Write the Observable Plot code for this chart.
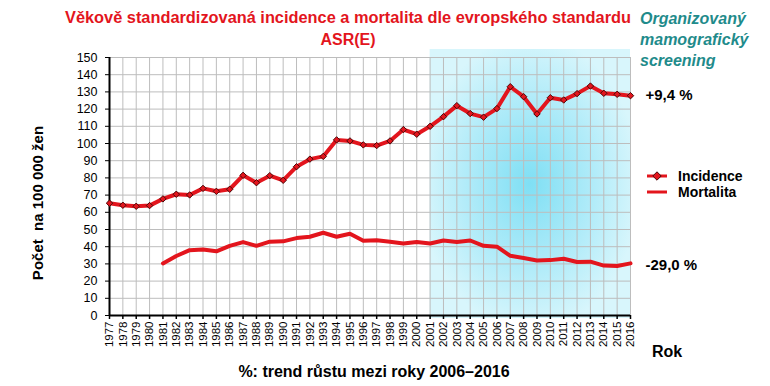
<!DOCTYPE html>
<html><head><meta charset="utf-8">
<script src="https://cdn.jsdelivr.net/npm/d3@7"></script>
<script src="https://cdn.jsdelivr.net/npm/@observablehq/plot@0.6"></script>
<style>body{margin:0;background:#fff}</style>
</head><body><div id="chart"></div>
<script>
const years = [1977,1978,1979,1980,1981,1982,1983,1984,1985,1986,1987,1988,1989,1990,1991,1992,1993,1994,1995,1996,1997,1998,1999,2000,2001,2002,2003,2004,2005,2006,2007,2008,2009,2010,2011,2012,2013,2014,2015,2016];
const incidence = [65.3,64.1,63.5,63.9,67.8,70.5,70.1,73.9,72.2,73.4,81.5,77.2,81.3,78.6,86.5,90.9,92.5,102.1,101.5,99.2,98.8,101.5,108.1,105.4,110.0,115.6,122.0,117.4,115.3,120.3,133.0,127.2,117.2,126.6,125.3,129.0,133.4,129.2,128.6,127.8];
const mortalita = [null,null,null,null,30.3,34.6,38.0,38.4,37.3,40.5,42.7,40.5,42.9,43.1,45.0,45.8,48.1,45.8,47.5,43.4,43.8,42.9,41.9,42.7,41.9,43.6,42.7,43.6,40.5,40.0,34.7,33.4,32.0,32.2,33.0,31.1,31.3,29.0,28.8,30.3];
const yTicks = [0,10,20,30,40,50,60,70,80,90,100,110,120,130,140,150];
const screening = [{from: 2001, to: 2016, lo: 0, hi: 150}];
const trends = {incidence: "+9,4 %", mortalita: "-29,0 %"};
const titleLines = ["Věkově standardizovaná incidence a mortalita dle evropského standardu", "ASR(E)"];
const screeningLines = ["Organizovaný", "mamografický", "screening"];

const incData = years.map((y, i) => ({year: y, v: incidence[i]}));
const mortData = years.map((y, i) => ({year: y, v: mortalita[i]})).filter(d => d.v != null);
const RED = "#e3151d";
const FONT = "'Liberation Sans', Arial, sans-serif";

const chart = Plot.plot({
  width: 770, height: 386,
  marginLeft: 109, marginRight: 140, marginTop: 57, marginBottom: 71,
  style: {fontFamily: FONT, background: "white", overflow: "visible"},
  x: {type: "linear", domain: [1977, 2016], label: null},
  y: {domain: [0, 150], label: null},
  marks: [
    Plot.rect(screening, {x1: "from", x2: "to", y1: "lo", y2: "hi", fill: "url(#scrGrad)", insetTop: -8, insetBottom: -3}),
    Plot.gridX(years, {stroke: "#bdbdbd", strokeOpacity: 1, strokeWidth: 1}),
    Plot.gridY(yTicks, {stroke: "#bdbdbd", strokeOpacity: 1, strokeWidth: 1}),
    Plot.axisX(years, {tickRotate: -90, tickSize: 4, tickPadding: 2, tickFormat: d => String(d), fontSize: 11.5, fill: "#000", stroke: "#000", strokeWidth: 1.5, label: null}),
    Plot.axisY(yTicks, {tickSize: 4, tickPadding: 8, fontSize: 12.5, fill: "#000", stroke: "#000", label: null}),
    Plot.ruleX([1977], {stroke: "#000", strokeWidth: 2}),
    Plot.ruleY([0], {stroke: "#000", strokeWidth: 2}),
    Plot.line(mortData, {x: "year", y: "v", stroke: RED, strokeWidth: 4}),
    Plot.line(incData, {x: "year", y: "v", stroke: RED, strokeWidth: 4}),
    Plot.dot(incData, {x: "year", y: "v", symbol: "diamond2", r: 2.9, fill: RED, stroke: "#4a0a0a", strokeWidth: 1}),
    Plot.text([incData[incData.length - 1]], {x: "year", y: "v", text: () => trends.incidence, textAnchor: "start", dx: 15, dy: 0, fontSize: 15, fontWeight: "bold", fill: "#000"}),
    Plot.text([mortData[mortData.length - 1]], {x: "year", y: "v", text: () => trends.mortalita, textAnchor: "start", dx: 15, dy: 2, fontSize: 15, fontWeight: "bold", fill: "#000"})
  ]
});

const svg = d3.select(chart);
const defs = svg.insert("defs", ":first-child");
const g = defs.append("radialGradient").attr("id", "scrGrad").attr("cx", "0.5").attr("cy", "0.5").attr("r", "0.55");
g.append("stop").attr("offset", "0%").attr("stop-color", "#7fdff4");
g.append("stop").attr("offset", "60%").attr("stop-color", "#b3ecf9");
g.append("stop").attr("offset", "100%").attr("stop-color", "#d8f6fc");

const ann = svg.append("g").attr("font-family", FONT).attr("font-weight", "bold").attr("text-anchor", "start");
ann.append("text").attr("x", 348).attr("y", 23).attr("text-anchor", "middle").attr("font-size", 16).attr("fill", RED)
  .attr("textLength", 566).attr("lengthAdjust", "spacingAndGlyphs").text(titleLines[0]);
ann.append("text").attr("x", 348).attr("y", 45).attr("text-anchor", "middle").attr("font-size", 16).attr("fill", RED).text(titleLines[1]);
screeningLines.forEach((t, i) => {
  ann.append("text").attr("x", 640).attr("y", 24 + i * 21).attr("text-anchor", "start").attr("font-size", 16).attr("font-style", "italic").attr("fill", "#1f8b8b").text(t);
});
ann.append("text").attr("transform", "translate(43,203) rotate(-90)").attr("text-anchor", "middle").attr("font-size", 15)
  .attr("fill", "#000").style("white-space", "pre").text("Počet  na 100 000 žen");
ann.append("text").attr("x", 652).attr("y", 357).attr("text-anchor", "start").attr("font-size", 16).attr("fill", "#000").text("Rok");
ann.append("text").attr("x", 374).attr("y", 377).attr("text-anchor", "middle").attr("font-size", 16).attr("fill", "#000").text("%: trend růstu mezi roky 2006–2016");

// legend
const lg = svg.append("g").attr("font-family", FONT).attr("font-weight", "bold").attr("font-size", 14).attr("text-anchor", "start");
lg.append("line").attr("x1", 647).attr("x2", 667).attr("y1", 176).attr("y2", 176).attr("stroke", RED).attr("stroke-width", 3);
lg.append("path").attr("transform", "translate(657,176)").attr("d", d3.symbol(d3.symbolDiamond2, 45)()).attr("fill", RED).attr("stroke", "#4a0a0a");
lg.append("text").attr("x", 678).attr("y", 181).text("Incidence");
lg.append("line").attr("x1", 647).attr("x2", 667).attr("y1", 192).attr("y2", 192).attr("stroke", RED).attr("stroke-width", 3);
lg.append("text").attr("x", 678).attr("y", 197).text("Mortalita");

document.getElementById("chart").appendChild(chart);
</script>
</body></html>
